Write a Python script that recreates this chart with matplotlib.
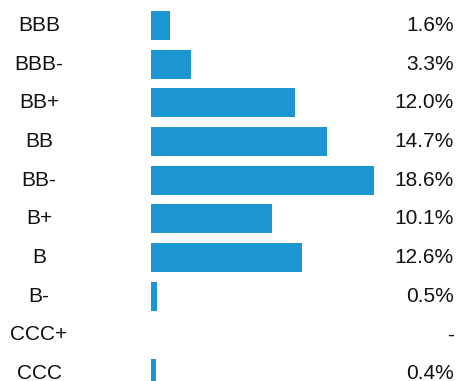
import matplotlib.pyplot as plt
from matplotlib.transforms import blended_transform_factory

# Rating distribution
ratings = ["BBB", "BBB-", "BB+", "BB", "BB-", "B+", "B", "B-", "CCC+", "CCC"]
shares = [1.6, 3.3, 12.0, 14.7, 18.6, 10.1, 12.6, 0.5, 0.0, 0.4]
share_labels = ["1.6%", "3.3%", "12.0%", "14.7%", "18.6%", "10.1%", "12.6%", "0.5%", "-", "0.4%"]

plt.rcParams['font.family'] = ['Liberation Sans', 'DejaVu Sans']

W, H = 457, 381
fig = plt.figure(figsize=(W / 100, H / 100), dpi=100)
ax = fig.add_axes([151 / W, 0, 240 / W, 1])

ypos = list(range(len(ratings)))
ax.barh(ypos, shares, height=0.75, color="#1b96d3")
ax.set_xlim(0, 20)
ax.set_ylim(9.194, -0.659)
ax.axis("off")

trans = blended_transform_factory(fig.transFigure, ax.transData)
for y, name, lab in zip(ypos, ratings, share_labels):
    ax.text(39 / W, y, name, transform=trans, ha="center", va="center",
            fontsize=15, color="#111111")
    ax.text(454 / W, y, lab, transform=trans, ha="right", va="center",
            fontsize=15, color="#111111")

fig.savefig("out.png", dpi=100)
